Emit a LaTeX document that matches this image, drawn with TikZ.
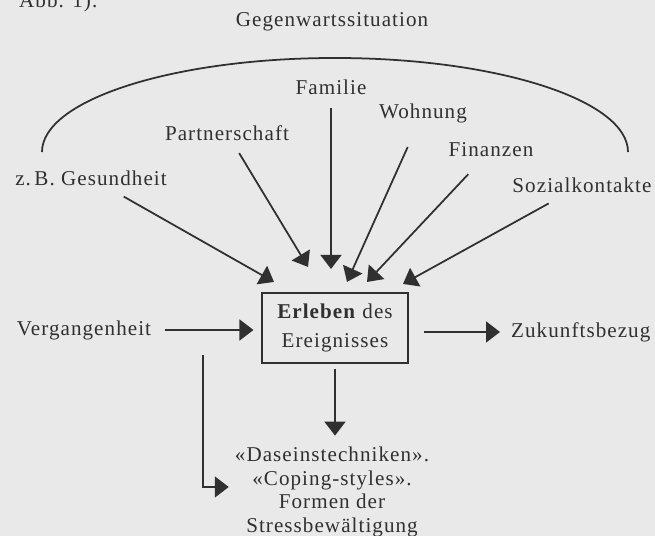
\documentclass[tikz,border=0pt]{standalone}
\usepackage{fontspec}
\setmainfont[LetterSpace=5]{Liberation Serif}
\usetikzlibrary{arrows.meta}
\definecolor{papier}{RGB}{233,233,233}
\definecolor{tinte}{RGB}{48,48,48}

\begin{document}
\begin{tikzpicture}[
    txt/.style={font=\fontsize{12}{13.5}\selectfont,text=tinte},
    pfeil/.style={draw=tinte,line width=1pt,-{Triangle[length=0.28cm,width=0.42cm]}},
    bogen/.style={draw=tinte,line width=1pt}]
                \fill[papier] (0,0) rectangle (13.1,10.72);
                \useasboundingbox (0,0) rectangle (13.1,10.72);
                \node[txt,anchor=base west] (A) at (0.26,10.56) {Abb. 1).};
                \node[txt] (G) at (6.64,10.28) {Gegenwartssituation};
                \draw[bogen] (0.84,7.68) arc[start angle=180,end angle=0,x radius=5.86,y radius=1.88];
                \node[txt] (F) at (6.62,8.98) {Familie};
                \node[txt] (P) at (4.54,8.06) {Partnerschaft};
                \node[txt] (W) at (8.46,8.46) {Wohnung};
                \node[txt] (Fi) at (9.82,7.72) {Finanzen};
                \node[txt] (S) at (11.64,7.02) {Sozialkontakte};
                \node[txt] (Ge) at (1.82,7.16) {z.\,B. Gesundheit};
                \node[txt] (V) at (1.68,4.12) {Vergangenheit};
                \node[txt,draw=tinte,line width=1.2pt,minimum width=2.92cm,minimum height=1.4cm,align=center] (E) at (6.70,4.16) {\textbf{Erleben} des\\[3pt]Ereignisses};
                \node[txt,anchor=west] (Z) at (10.10,4.08) {Zukunftsbezug};
                \node[txt,align=center] (D) at (6.64,0.88) {«Daseinstechniken».\\«Coping-styles».\\Formen der\\Stressbewältigung};
                \coordinate (t1) at ([shift={(-1.22,0.20)}]E.north);
                \coordinate (t2) at ([shift={(-0.54,0.50)}]E.north);
                \coordinate (t3) at ([shift={(-0.08,0.46)}]E.north);
                \coordinate (t4) at ([shift={(0.24,0.20)}]E.north);
                \coordinate (t5) at ([shift={(0.64,0.20)}]E.north);
                \coordinate (t6) at ([shift={(1.36,0.16)}]E.north);
                \coordinate (ab) at (4.06,3.62);
                \draw[pfeil,shorten <=2mm] (Ge) -- (t1);
                \draw[pfeil,shorten <=1.5mm] (P) -- (t2);
                \draw[pfeil,shorten <=1.5mm] (F.south) -- (F.south |- t3);
                \draw[pfeil,shorten <=4mm] (W) -- (t4);
                \draw[pfeil,shorten <=3mm] (Fi) -- (t5);
                \draw[pfeil,shorten <=2mm] (S) -- (t6);
                \draw[pfeil,shorten <=1.5mm,shorten >=1.5mm] (V) -- (V -| E.west);
                \draw[pfeil,shorten <=3mm,shorten >=1mm] (E.east |- Z) -- (Z.west);
                \draw[pfeil,shorten <=1mm,shorten >=1mm] (E.south) -- (E.south |- D.north);
                \draw[pfeil] (ab) |- ([yshift=0.1cm]D.west);
            \end{tikzpicture}
\end{document}
